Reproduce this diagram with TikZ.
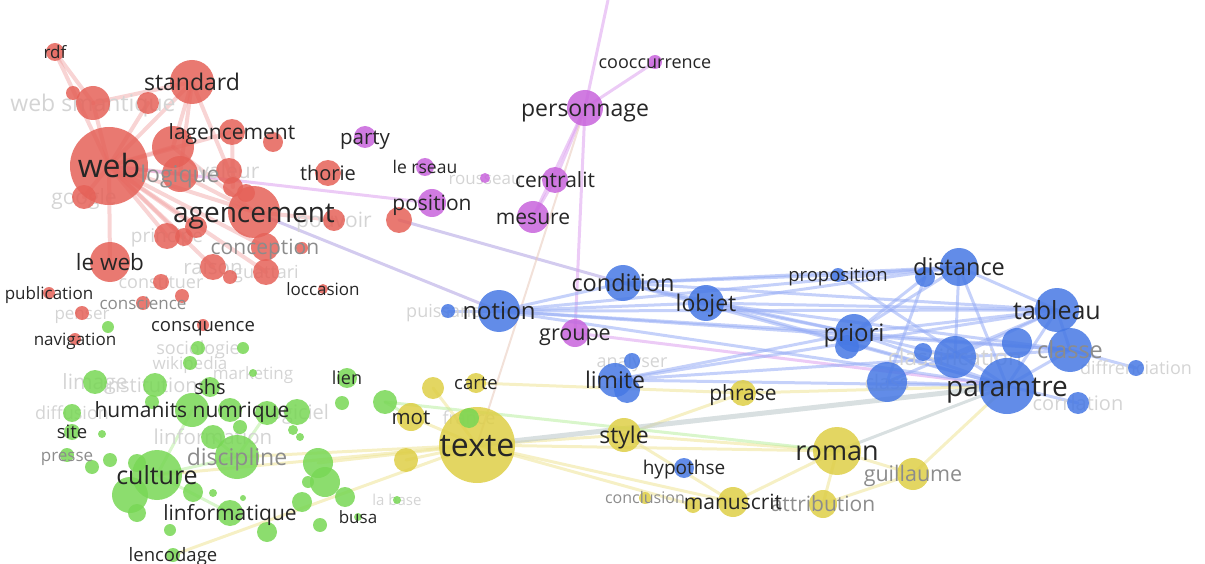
\documentclass[tikz,border=0pt]{standalone}
\usepackage{fontspec}
\setmainfont{Open Sans}

\definecolor{nred}{RGB}{229,97,88}
\definecolor{npur}{RGB}{200,100,220}
\definecolor{nblu}{RGB}{70,120,228}
\definecolor{nyel}{RGB}{222,207,70}
\definecolor{ngre}{RGB}{120,215,85}
\definecolor{lred}{RGB}{240,160,160}
\definecolor{lpur}{RGB}{220,160,238}
\definecolor{lvio}{RGB}{175,160,225}
\definecolor{lblu}{RGB}{150,172,245}
\definecolor{lyel}{RGB}{238,228,150}
\definecolor{lgre}{RGB}{185,238,160}
\definecolor{lgry}{RGB}{185,198,200}
\definecolor{lbei}{RGB}{232,200,185}

\newcommand{\fs}[1]{\fontsize{#1}{#1}\selectfont}

\pgfdeclarelayer{edges}
\pgfdeclarelayer{faint}
\pgfsetlayers{edges,faint,main}

\tikzset{
  bubble/.style={circle, inner sep=0pt, draw=none, fill opacity=0.85},
  link/.style={line width=3pt, draw opacity=0.55, line cap=round},
  word/.style={inner sep=0pt, anchor=base, text=black!85},
}

\def\bubbles{
  rdf/55/52/9/nred, r1/73/93/7/nred, ws/93/103/17/nred, r2/148/103/11/nred,
  standard/192/82/22/nred, web/109/166/39/nred, r3/173/147/21/nred,
  logique/180/174/18/nred, lagencement/232/132/13/nred, r4/273/142/10/nred,
  valeur/229/171/13/nred, r5/233/187/10/nred, r6/246/193/9/nred,
  agencement/254/212/26/nred, thorie/328/173/13/nred, pouvoir/334/220/11/nred,
  r7/399/220/13/nred, google/84/197/12/nred, principe/167/236/13/nred,
  r8/184/237/9/nred, r9/196/227/11/nred, conception/265/247/14/nred,
  r10/302/248/6/nred, guattari/266/272/13/nred, raison/213/267/13/nred,
  r11/230/277/7/nred, leweb/110/262/20/nred, constituer/161/282/8/nred,
  r12/182/296/7/nred, conscience/143/303/7/nred, publication/49/293/6/nred,
  penser/82/313/7/nred, navigation/75/339/6/nred, consquence/203/325/6/nred,
  loccasion/323/289/5/nred,
  party/365/137/11/npur, lerseau/425/167/9/npur, rousseau/485/178/5/npur,
  position/432/203/14/npur, personnage/585/108/18/npur, cooc/655/62/7/npur,
  centralit/555/180/13/npur, mesure/533/217/16/npur, groupe/575/333/14/npur,
  puissance/448/311/7/nblu, notion/499/311/21/nblu, condition/623/283/18/nblu,
  lobjet/706/303/18/nblu, proposition/838/275/7/nblu, b1/925/277/10/nblu,
  distance/959/267/19/nblu, tableau/1057/310/22/nblu, priori/854/333/19/nblu,
  b2/847/347/12/nblu, b3/923/352/9/nblu, classification/955/357/21/nblu,
  b4/1017/343/15/nblu, classe/1070/350/22/nblu, diffrenciation/1136/368/8/nblu,
  paramtre/1007/386/28/nblu, corrlation/1078/403/11/nblu, class/887/382/20/nblu,
  analyser/632/361/8/nblu, limite/615/380/17/nblu, b5/627/390/13/nblu,
  hypothse/684/468/10/nblu,
  y1/433/388/11/nyel, carte/476/383/10/nyel, mot/411/417/14/nyel,
  texte/477/445/38/nyel, y2/406/460/12/nyel, style/624/435/17/nyel,
  phrase/743/393/13/nyel, roman/837/451/24/nyel, guillaume/913/474/16/nyel,
  attribution/823/504/14/nyel, manuscrit/733/502/15/nyel, y3/693/505/8/nyel,
  conclusion/645/498/6/nyel,
  g1/108/327/6/ngre, sociologie/198/348/7/ngre, g2/243/348/6/ngre,
  wikipedia/190/363/7/ngre, marketing/253/373/4/ngre, limage/95/382/12/ngre,
  institutions/155/385/12/ngre, g3/152/402/7/ngre, shs/210/387/10/ngre,
  lien/347/378/10/ngre, g4/342/403/7/ngre, g5/385/402/12/ngre,
  diffusion/72/413/9/ngre, site/72/432/8/ngre, g6/102/434/4/ngre,
  presse/67/455/7/ngre, g7/92/467/7/ngre, g8/110/460/7/ngre, g9/137/463/9/ngre,
  humanits/192/410/17/ngre, g10/230/410/12/ngre, g11/267/413/12/ngre,
  logiciel/297/412/13/ngre, g12/293/430/5/ngre, g13/300/437/4/ngre,
  linformation/213/437/12/ngre, g14/240/427/7/ngre, discipline/237/457/22/ngre,
  g15/318/463/15/ngre, g16/325/482/15/ngre, g17/308/482/6/ngre,
  culture/157/475/25/ngre, g18/130/495/18/ngre, g19/193/492/10/ngre,
  g20/213/493/4/ngre, g21/243/498/3/ngre, g22/137/513/9/ngre,
  linformatique/230/513/13/ngre, g23/302/502/10/ngre, g26/345/497/10/ngre,
  g24/320/525/7/ngre, g25/267/532/10/ngre, busa/358/517/4/ngre,
  labase/397/500/4/ngre, g27/170/530/6/ngre, lencodage/173/555/7/ngre,
  france/469/418/10/ngre}

\begin{document}
\begin{tikzpicture}[x=1pt, y=-1pt]
  \useasboundingbox (0,0) rectangle (1205,564);
  \coordinate (top) at (608,0);

  \foreach \n/\x/\y/\r/\c in \bubbles {
    \pgfmathsetmacro{\d}{2*\r}
    \node[bubble, fill=\c, minimum size=\d pt] (\n) at (\x,\y) {};
  }

  \begin{pgfonlayer}{edges}
    \foreach \a/\b in {rdf/ws, ws/web, ws/standard, web/standard, web/r2, web/r3,
        web/logique, web/lagencement, web/agencement, web/leweb, web/principe,
        web/raison, web/guattari, web/conception, web/r9, web/google, web/r8,
        standard/r3, standard/logique, standard/valeur, lagencement/r5,
        r3/agencement, logique/agencement, agencement/pouvoir, rdf/web}
      \draw[link, lred, line width=4pt, draw opacity=0.45] (\a.center) -- (\b.center);
    \draw[link, lpur] (web.center) -- (position.center);
    \draw[link, lvio] (agencement.center) -- (notion.center);
    \draw[link, lvio] (r7.center) -- (condition.center);
    \foreach \a/\b in {personnage/cooc, personnage/centralit, personnage/mesure,
        personnage/top, personnage/groupe, centralit/mesure, groupe/paramtre}
      \draw[link, lpur] (\a.center) -- (\b.center);
    \draw[link, lbei, line width=2pt] (personnage.center) -- (texte.center);
    \foreach \a/\b in {notion/condition, notion/lobjet, notion/priori, notion/tableau,
        notion/distance, notion/paramtre, notion/classe, condition/lobjet,
        condition/proposition, condition/distance, condition/tableau, condition/priori,
        condition/paramtre, lobjet/distance, lobjet/tableau, lobjet/priori,
        lobjet/paramtre, lobjet/classe, proposition/distance, proposition/paramtre,
        distance/tableau, distance/paramtre, distance/priori, distance/classification,
        b1/class, b1/priori, priori/tableau, priori/paramtre, priori/classification,
        priori/classe, tableau/paramtre, tableau/classe, tableau/classification,
        tableau/class, classe/paramtre, classe/diffrenciation, paramtre/corrlation,
        limite/paramtre, limite/priori, limite/tableau, limite/classe,
        class/paramtre, puissance/notion}
      \draw[link, lblu] (\a.center) -- (\b.center);
    \foreach \a/\b in {texte/style, texte/roman, texte/manuscrit, texte/mot, texte/y2,
        carte/phrase, style/phrase, style/roman, phrase/paramtre, roman/manuscrit,
        roman/attribution, roman/guillaume, guillaume/paramtre, attribution/guillaume,
        texte/y3, style/manuscrit, y1/texte, texte/culture, texte/discipline,
        texte/g15, lencodage/texte}
      \draw[link, lyel] (\a.center) -- (\b.center);
    \draw[link, lgry, line width=5pt] (texte.center) -- (paramtre.center);
    \draw[link, lgry] (roman.center) -- (paramtre.center);
    \foreach \a/\b in {g5/roman, mot/g5, culture/discipline, culture/humanits,
        culture/linformatique, discipline/linformation, discipline/g11}
      \draw[link, lgre] (\a.center) -- (\b.center);
  \end{pgfonlayer}

  \begin{pgfonlayer}{faint}
    \foreach \n/\t/\s in {ws/web smantique/23, google/google/21, principe/principe/19,
        raison/raison/20.5, guattari/guattari/18, constituer/constituer/18,
        penser/penser/17, valeur/valeur/21, pouvoir/pouvoir/21, rousseau/rousseau/17,
        sociologie/sociologie/18, wikipedia/wikipedia/17, marketing/marketing/17,
        limage/limage/21, institutions/institutions/20, diffusion/diffusion/18,
        logiciel/logiciel/20, linformation/linformation/20.5, labase/la base/15,
        france/france/18, puissance/puissance/18, analyser/analyser/18,
        classification/classification/22.5, class/class/20,
        diffrenciation/diffrenciation/18, corrlation/corrlation/20} {
      \pgfmathsetmacro{\b}{0.36*\s}
      \node[word, text=black!17, font=\fs{\s}] at ([yshift=-\b pt]\n.center) {\t};
    }
  \end{pgfonlayer}

  \foreach \n/\t/\s in {logique/logique/23, conception/conception/21,
      discipline/discipline/23, classe/classe/23.5, guillaume/guillaume/21.5,
      attribution/attribution/21, presse/presse/17, conscience/conscience/17,
      conclusion/conclusion/16} {
    \pgfmathsetmacro{\b}{0.36*\s}
    \node[word, text=black!45, font=\fs{\s}] at ([yshift=-\b pt]\n.center) {\t};
  }

  \foreach \n/\t/\s in {rdf/rdf/17, web/web/32, standard/standard/23,
      lagencement/lagencement/21, thorie/thorie/20, agencement/agencement/28,
      leweb/le web/22.5, publication/publication/17, navigation/navigation/17,
      consquence/consquence/18.5, loccasion/loccasion/17, party/party/20.5,
      lerseau/le rseau/17.5, position/position/21, personnage/personnage/23,
      cooc/cooccurrence/18, centralit/centralit/21, mesure/mesure/21,
      groupe/groupe/21.5, notion/notion/24, condition/condition/23.5,
      lobjet/lobjet/23, proposition/proposition/18.5, distance/distance/23.5,
      tableau/tableau/25, priori/priori/24, paramtre/paramtre/28,
      limite/limite/23, hypothse/hypothse/19, carte/carte/18.5, mot/mot/20.5,
      texte/texte/32, style/style/23, phrase/phrase/21, roman/roman/27,
      manuscrit/manuscrit/21, shs/shs/20, lien/lien/18, humanits/humanits numrique/21,
      site/site/18.5, culture/culture/25, linformatique/linformatique/21,
      busa/busa/17, lencodage/lencodage/18.5} {
    \pgfmathsetmacro{\b}{0.36*\s}
    \node[word, font=\fs{\s}] at ([yshift=-\b pt]\n.center) {\t};
  }
\end{tikzpicture}
\end{document}
